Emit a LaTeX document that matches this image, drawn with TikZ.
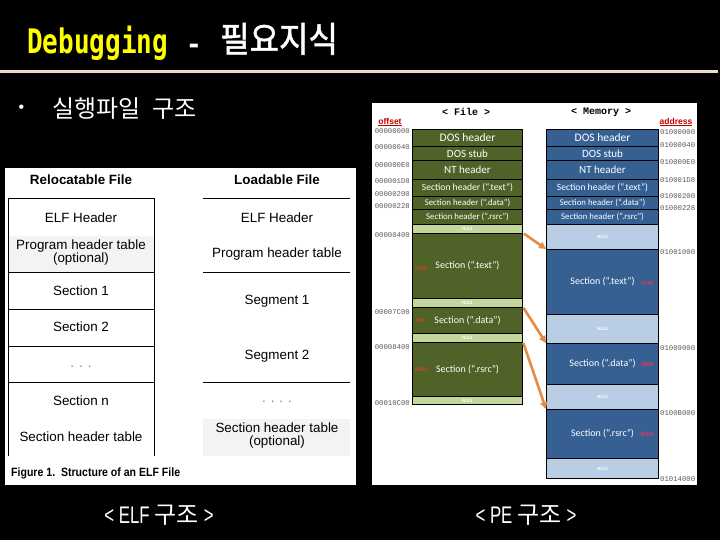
\documentclass[tikz,border=0pt]{standalone}
\usepackage{fontspec}
\setmainfont{Liberation Sans}
\newfontfamily\kr{Noto Sans CJK KR}
\newfontfamily\krb{Noto Sans CJK KR}[FakeBold=1.5]
\newfontfamily\dmono{DejaVu Sans Mono}
\newfontfamily\calf{Carlito}
\newfontfamily\lmono{Liberation Mono}
\usetikzlibrary{arrows.meta}
\definecolor{filegreen}{RGB}{79,98,40}
\definecolor{filenull}{RGB}{195,214,155}
\definecolor{memblue}{RGB}{54,96,146}
\definecolor{memnull}{RGB}{185,205,229}
\definecolor{arrowor}{RGB}{228,140,70}
\definecolor{titleyel}{RGB}{255,255,0}
\definecolor{rulecol}{RGB}{232,222,195}
\definecolor{lightfill}{RGB}{243,243,243}
\definecolor{offgray}{RGB}{90,90,90}
\definecolor{fred}{RGB}{200,70,40}
\definecolor{mred}{RGB}{240,50,90}
\definecolor{hdrred}{RGB}{192,0,0}
\tikzset{
  px/.style={x=1pt,y=-1pt},
  frow/.style={draw=black, line width=1pt, fill=filegreen, minimum width=110pt, inner sep=0pt, anchor=north west, text=white, font=\calf\fontsize{10}{12}\selectfont},
  fnul/.style={frow, fill=filenull, font=\calf\bfseries\fontsize{5}{5}\selectfont},
  mrow/.style={frow, fill=memblue, minimum width=112pt},
  mnul/.style={mrow, fill=memnull, font=\calf\bfseries\fontsize{5}{5}\selectfont},
  offl/.style={anchor=east, inner sep=0pt, text=offgray, font=\lmono\fontsize{7.3}{8}\selectfont},
  addl/.style={anchor=west, inner sep=0pt, text=offgray, font=\lmono\fontsize{7.3}{8}\selectfont},
  redf/.style={inner sep=0pt, text=fred, font=\calf\bfseries\fontsize{6}{6}\selectfont},
  redm/.style={inner sep=0pt, text=mred, font=\calf\bfseries\fontsize{6}{6}\selectfont},
  elft/.style={inner sep=0pt, text=black, font=\fontsize{13.4}{15}\selectfont, align=center},
  elfh/.style={inner sep=0pt, text=black, font=\bfseries\fontsize{13.4}{15}\selectfont},
  elfline/.style={draw=black, line width=1pt},
  arr/.style={draw=arrowor, line width=2.6pt, -{Triangle[length=7pt,width=7pt]}, shorten <=1pt},
  bottomlbl/.style={inner sep=0pt, text=white},
}
\begin{document}
\begin{tikzpicture}[px]
\useasboundingbox (0,0) rectangle (720,540);
\fill[black] (0,0) rectangle (720,540);

% title
\node[anchor=base west, inner sep=0pt, text=titleyel] (ttl) at (27,54)
  {\scalebox{1}[1.3]{\dmono\bfseries\fontsize{26}{26}\selectfont Debugging}};
\node[anchor=base west, inner sep=0pt, text=white] (dash) at (186,54)
  {\dmono\bfseries\fontsize{26}{26}\selectfont -};
\node[anchor=base west, inner sep=0pt, text=white] (ttlkr) at (220,52)
  {\scalebox{1}[1.1]{\krb\fontsize{32}{32}\selectfont 필요지식}};
\draw[rulecol, line width=3pt] (0,71.5) -- (718,71.5);

% bullet
\node[inner sep=0pt, text=white, font=\fontsize{16}{16}\selectfont] (bul) at (21.5,109) {•};
\node[anchor=west, inner sep=0pt, text=white] (sub) at (52,109)
  {\kr\fontsize{24}{24}\selectfont 실행파일\hspace{12pt}구조};

% ===== ELF figure =====
\node[fill=white, draw=none, inner sep=0pt, minimum width=351pt, minimum height=317pt, anchor=north west] (elfbg) at (5,168) {};
\node[elfh] (relh) at (81,180) {Relocatable File};
\node[elfh] (loadh) at (277,180) {Loadable File};
% left table
\fill[lightfill] (8,236) rectangle (154,272);
\draw[elfline] (8,456) -- (8,199) -- (154,199) -- (154,456);
\draw[elfline] (8,272) -- (154,272);
\draw[elfline] (8,309) -- (154,309);
\draw[elfline] (8,346) -- (154,346);
\draw[elfline] (8,382) -- (154,382);
\node[elft] (l1) at (81,218) {ELF Header};
\node[elft] (l2) at (81,253) {Program header table\\[-2pt](optional)};
\node[elft] (l3) at (81,291) {Section 1};
\node[elft] (l4) at (81,327) {Section 2};
\node[elft, text=gray] (l5) at (81,367) {. . .};
\node[elft] (l6) at (81,401) {Section n};
\node[elft] (l7) at (81,437) {Section header table};
% right table
\fill[lightfill] (203,419) rectangle (350,456);
\draw[elfline] (203,199) -- (350,199);
\draw[elfline] (203,272) -- (350,272);
\draw[elfline] (203,382) -- (350,382);
\node[elft] (r1) at (277,218) {ELF Header};
\node[elft] (r2) at (277,254) {Program header table};
\node[elft] (r3) at (277,301) {Segment 1};
\node[elft] (r4) at (277,356) {Segment 2};
\node[elft, text=gray] (r5) at (277,402) {. . . .};
\node[elft] (r6) at (277,436) {Section header table\\[-2pt](optional)};
\node[anchor=west, inner sep=0pt, text=black] (cap) at (11,473)
  {\scalebox{0.88}[1]{\bfseries\fontsize{12}{13}\selectfont Figure 1.\ \ Structure of an ELF File}};

% ===== PE figure =====
\node[fill=white, draw=none, inner sep=0pt, minimum width=325pt, minimum height=382pt, anchor=north west] (pebg) at (372,103) {};
\node[inner sep=0pt, font=\lmono\bfseries\fontsize{10}{10}\selectfont] (fileh) at (466,112) {< File >};
\node[inner sep=0pt, font=\lmono\bfseries\fontsize{10}{10}\selectfont] (memh) at (601,112) {< Memory >};
\node[inner sep=0pt, text=hdrred, font=\bfseries\fontsize{8.5}{9}\selectfont] (offh) at (390,122) {\underline{offset}};
\node[inner sep=0pt, text=hdrred, font=\bfseries\fontsize{8.5}{9}\selectfont] (addh) at (676,122) {\underline{address}};

% file column
\node[frow, minimum height=17pt, font=\calf\fontsize{11.5}{12}\selectfont] (fdos) at (412,129) {DOS header};
\node[frow, minimum height=14pt, font=\calf\fontsize{11}{12}\selectfont] (fstub) at (412,146) {DOS stub};
\node[frow, minimum height=19pt, font=\calf\fontsize{11}{12}\selectfont] (fnt) at (412,160) {NT header};
\node[frow, minimum height=17pt, font=\calf\fontsize{9.6}{10}\selectfont] (fsht) at (412,179) {Section header (“.text”)};
\node[frow, minimum height=13pt, font=\calf\fontsize{8.8}{9}\selectfont] (fshd) at (412,196) {Section header (“.data”)};
\node[frow, minimum height=15pt, font=\calf\fontsize{8.8}{9}\selectfont] (fshr) at (412,209) {Section header (“.rsrc”)};
\node[fnul, minimum height=9pt] (fn1) at (412,224) {NULL};
\node[frow, minimum height=65pt] (ftext) at (412,233) {Section (“.text”)};
\node[fnul, minimum height=9pt] (fn2) at (412,298) {NULL};
\node[frow, minimum height=26pt] (fdata) at (412,307) {Section (“.data”)};
\node[fnul, minimum height=9pt] (fn3) at (412,333) {NULL};
\node[frow, minimum height=54pt] (frsrc) at (412,342) {Section (“.rsrc”)};
\node[fnul, minimum height=8pt] (fn4) at (412,396) {NULL};
\node[redf] (fr1) at (421,268) {7800};
\node[redf] (fr2) at (421,320) {800};
\node[redf] (fr3) at (421,369) {8800};

% offsets
\node[offl] (o1) at (410,131) {00000000};
\node[offl] (o2) at (410,147) {00000040};
\node[offl] (o3) at (410,165) {000000E0};
\node[offl] (o4) at (410,181) {000001D8};
\node[offl] (o5) at (410,194) {00000200};
\node[offl] (o6) at (410,206) {00000228};
\node[offl] (o7) at (410,235) {00000400};
\node[offl] (o8) at (410,312) {00007C00};
\node[offl] (o9) at (410,347) {00008400};
\node[offl] (o10) at (410,403) {00010C00};

% memory column
\node[mrow, minimum height=17pt, font=\calf\fontsize{11.5}{12}\selectfont] (mdos) at (546,129) {DOS header};
\node[mrow, minimum height=14pt, font=\calf\fontsize{11}{12}\selectfont] (mstub) at (546,146) {DOS stub};
\node[mrow, minimum height=19pt, font=\calf\fontsize{11}{12}\selectfont] (mnt) at (546,160) {NT header};
\node[mrow, minimum height=17pt, font=\calf\fontsize{9.6}{10}\selectfont] (msht) at (546,179) {Section header (“.text”)};
\node[mrow, minimum height=13pt, font=\calf\fontsize{8.8}{9}\selectfont] (mshd) at (546,196) {Section header (“.data”)};
\node[mrow, minimum height=15pt, font=\calf\fontsize{8.8}{9}\selectfont] (mshr) at (546,209) {Section header (“.rsrc”)};
\node[mnul, minimum height=25pt] (mn1) at (546,224) {NULL};
\node[mrow, minimum height=65pt] (mtext) at (546,249) {Section (“.text”)};
\node[mnul, minimum height=29pt] (mn2) at (546,314) {NULL};
\node[mrow, minimum height=41pt] (mdata) at (546,343) {Section (“.data”)};
\node[mnul, minimum height=25pt] (mn3) at (546,384) {NULL};
\node[mrow, minimum height=49pt] (mrsrc) at (546,409) {Section (“.rsrc”)};
\node[mnul, minimum height=20pt] (mn4) at (546,458) {NULL};
\node[redm] (mr1) at (647,283) {7748};
\node[redm] (mr2) at (647,364) {1BA8};
\node[redm] (mr3) at (647,434) {8304};

% addresses
\node[addl] (a1) at (660,132) {01000000};
\node[addl] (a2) at (660,145) {01000040};
\node[addl] (a3) at (660,162) {010000E0};
\node[addl] (a4) at (660,180) {010001D8};
\node[addl] (a5) at (660,196) {01000200};
\node[addl] (a6) at (660,208) {01000228};
\node[addl] (a7) at (660,252) {01001000};
\node[addl] (a8) at (660,348) {01009000};
\node[addl] (a9) at (660,413) {0100B000};
\node[addl] (a10) at (660,479) {01014000};

% arrows
\draw[arr] (ftext.north east) -- (mtext.north west);
\draw[arr] (fdata.north east) -- (mdata.north west);
\draw[arr] (frsrc.north east) -- (mrsrc.north west);

% bottom labels
\node[bottomlbl] (elfl) at (159,515)
  {\scalebox{0.7}[1]{\fontsize{24}{24}\selectfont < ELF}\hspace{5pt}{\kr\fontsize{24}{24}\selectfont 구조}\hspace{5pt}\scalebox{0.7}[1]{\fontsize{24}{24}\selectfont >}};
\node[bottomlbl] (pel) at (526,515)
  {\scalebox{0.7}[1]{\fontsize{24}{24}\selectfont < PE}\hspace{5pt}{\kr\fontsize{24}{24}\selectfont 구조}\hspace{5pt}\scalebox{0.7}[1]{\fontsize{24}{24}\selectfont >}};
\end{tikzpicture}
\end{document}
